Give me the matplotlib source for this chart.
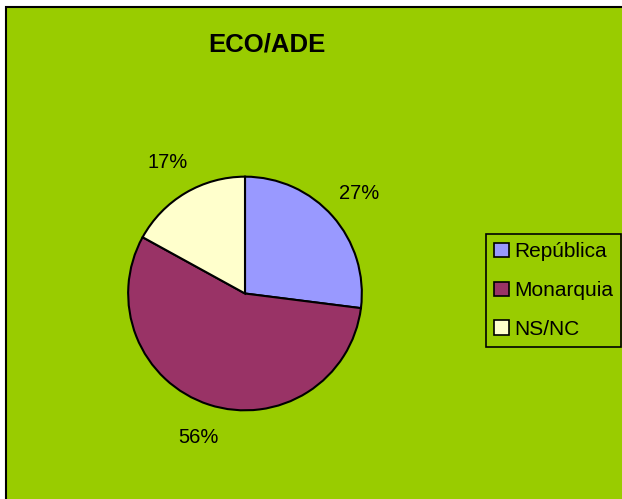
import matplotlib.pyplot as plt
from matplotlib.patches import Rectangle

plt.rcParams['font.family'] = ['Liberation Sans', 'DejaVu Sans']

# datos
categorias = ['República', 'Monarquia', 'NS/NC']
valores = [27, 56, 17]
colores = ['#9999FF', '#993366', '#FFFFCC']
titulo = 'ECO/ADE'

W, H = 622, 499
fig = plt.figure(figsize=(W / 100, H / 100), dpi=100)
fig.patch.set_facecolor('white')

# fondo verde con borde negro (solo visible arriba e izquierda)
fondo_ax = fig.add_axes([0, 0, 1, 1], zorder=-10)
fondo_ax.axis('off')
fondo_ax.add_patch(Rectangle((5.5 / W, -0.05), 1.2, (H - 6.5) / H + 0.05,
                             transform=fig.transFigure, facecolor='#99CC00',
                             edgecolor='black', linewidth=1.5))

# ejes del pastel
ax = fig.add_axes([127 / W, (H - 412) / H, 236 / W, 237 / H])
ax.set_facecolor('none')
wedges, textos, autotextos = ax.pie(
    valores, colors=colores, startangle=90, counterclock=False,
    autopct='%1.0f%%', pctdistance=1.3,
    wedgeprops={'edgecolor': 'black', 'linewidth': 1.5},
    textprops={'fontsize': 14.5, 'color': 'black'})
ax.set_xlim(-1.01, 1.01)
ax.set_ylim(-1.01, 1.01)
ax.set_aspect('equal')
ax.axis('off')

fig.text(267 / W, 1 - 45 / H, titulo, ha='center', va='center',
         fontsize=18.5, fontweight='bold')

leg = fig.legend(wedges, categorias, loc='upper left',
                 bbox_to_anchor=(486 / W, 1 - 234 / H),
                 fontsize=15, frameon=True, fancybox=False,
                 edgecolor='black', facecolor='#99CC00', framealpha=1,
                 handlelength=0.7, handleheight=0.7, handletextpad=0.25,
                 labelspacing=0.95, borderpad=0.4, borderaxespad=0)
leg.get_frame().set_linewidth(1.2)
for h in leg.legend_handles:
    h.set_edgecolor('black')
    h.set_linewidth(1.2)

fig.savefig('out.png', dpi=100)
